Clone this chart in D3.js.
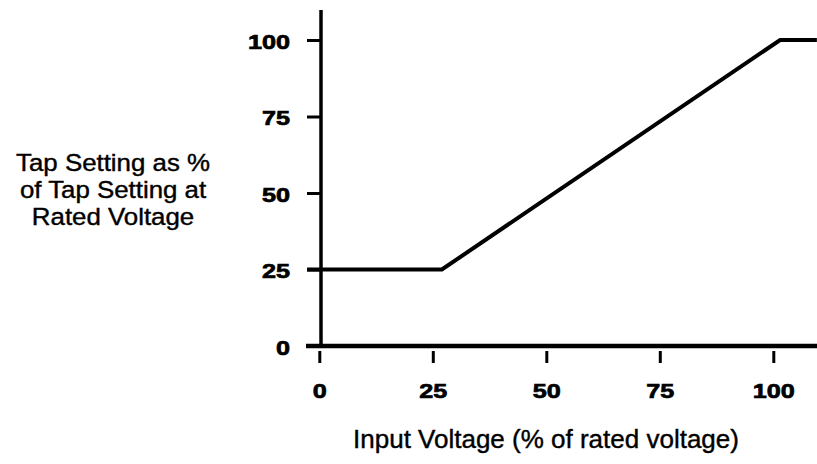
<!DOCTYPE html>
<html><head><meta charset="utf-8">
<script src="https://cdn.jsdelivr.net/npm/d3@7"></script>
<style>body{margin:0;background:#fff}</style>
</head><body>
<svg id="c" width="817" height="464"></svg>
<script>
const xTicks = [0, 25, 50, 75, 100];
const yTicks = [0, 25, 50, 75, 100];
const lineVoltage = [-2.7, 27, 101.5, 109.6];
const lineTap = [25, 25, 100, 100];
const yTitle = ["Tap Setting as %", "of Tap Setting at", "Rated Voltage"];
const xTitle = "Input Voltage (% of rated voltage)";

const svg = d3.select("#c");
const x = d3.scaleLinear().domain([0, 100]).range([319.3, 773.3]);
const y = d3.scaleLinear().domain([0, 100]).range([346, 40]);
const SX = 1.2;
const FONT = "Liberation Sans, Arial, Helvetica, sans-serif";

// x axis
const gx = svg.append("g").attr("transform", "translate(0,351)")
  .call(d3.axisBottom(x).tickValues(xTicks).tickSize(12).tickPadding(20).tickFormat(d3.format("d")));
gx.select(".domain").remove();
gx.selectAll(".tick line").attr("stroke", "#000").attr("stroke-width", 3);
gx.selectAll(".tick text").attr("font-family", FONT)
  .attr("font-weight", "bold").attr("font-size", 21).attr("fill", "#000")
  .attr("stroke", "#000").attr("stroke-width", 0.7)
  .attr("transform", "scale(" + SX + ",1)");

// y axis
const gy = svg.append("g").attr("transform", "translate(320,0)")
  .call(d3.axisLeft(y).tickValues(yTicks).tickSize(13).tickPadding(17).tickFormat(d3.format("d")));
gy.select(".domain").remove();
gy.selectAll(".tick line").attr("stroke", "#000").attr("stroke-width", 3);
gy.selectAll(".tick text").attr("font-family", FONT)
  .attr("font-weight", "bold").attr("font-size", 21).attr("fill", "#000")
  .attr("stroke", "#000").attr("stroke-width", 0.7)
  .attr("x", -30 / SX).attr("dy", "0.4em").attr("transform", "scale(" + SX + ",1)");

// axis lines
svg.append("line").attr("x1", 306).attr("x2", 817).attr("y1", y(0)).attr("y2", y(0))
  .attr("stroke", "#000").attr("stroke-width", 4.5);
svg.append("line").attr("x1", 321).attr("x2", 321).attr("y1", 10).attr("y2", y(0))
  .attr("stroke", "#000").attr("stroke-width", 3.5);

// data line
const pts = lineVoltage.map((v, i) => [v, lineTap[i]]);
svg.append("path").datum(pts)
  .attr("d", d3.line().x(d => x(d[0])).y(d => y(d[1])))
  .attr("fill", "none").attr("stroke", "#000").attr("stroke-width", 4).attr("stroke-linejoin", "miter");

// y title, one text per line
svg.selectAll("text.ytitle").data(yTitle).join("text").attr("class", "ytitle")
  .attr("font-family", FONT).attr("font-size", 23.5).attr("fill", "#000")
  .attr("stroke", "#000").attr("stroke-width", 0.4).attr("text-anchor", "middle")
  .attr("transform", (d, i) => "translate(113," + (171 + i * 27) + ") scale(1.1,1)")
  .text(d => d);

svg.append("text").attr("font-family", FONT)
  .attr("font-size", 26).attr("fill", "#000").attr("stroke", "#000").attr("stroke-width", 0.4)
  .attr("text-anchor", "middle")
  .attr("x", 546).attr("y", 448).text(xTitle);
</script>
</body></html>
